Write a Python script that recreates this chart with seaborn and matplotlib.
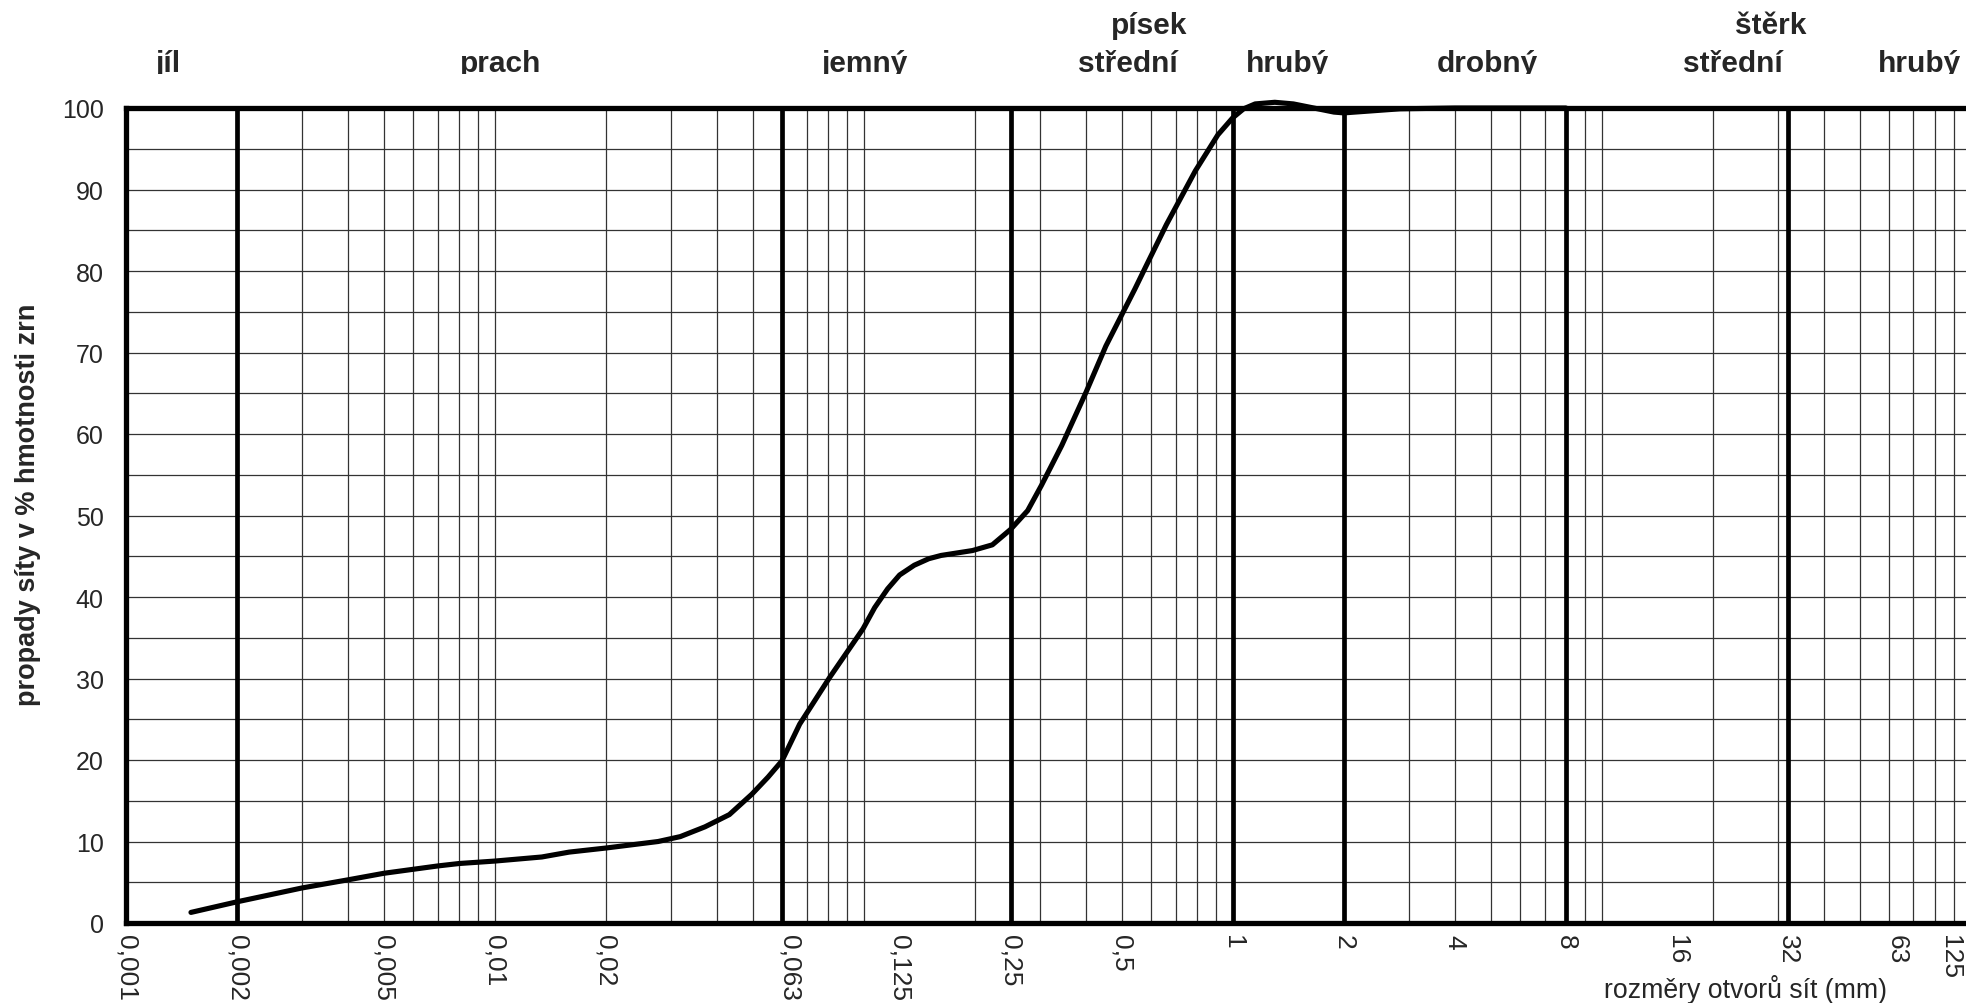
import numpy as np
import pandas as pd
import matplotlib
matplotlib.use("Agg")
import matplotlib.pyplot as plt
import seaborn as sns
from matplotlib.ticker import NullLocator
from matplotlib.transforms import Bbox, TransformedBbox

# Grain-size distribution (passing through sieve, % by mass)
size_mm = [0.0015, 0.002, 0.003, 0.004, 0.005, 0.007, 0.008, 0.010, 0.0134,
           0.0159, 0.020, 0.0277, 0.0318, 0.0371, 0.0432, 0.0497, 0.055,
           0.060, 0.067, 0.0807, 0.0995, 0.107, 0.116, 0.125, 0.137, 0.15,
           0.162, 0.197, 0.223, 0.25, 0.278, 0.303, 0.344, 0.400, 0.453,
           0.543, 0.582, 0.661, 0.792, 0.911, 1.0, 1.07, 1.15, 1.3, 1.46,
           1.7, 1.88, 2.0, 2.84, 4.0, 8.0]
passing = [1.3, 2.6, 4.3, 5.3, 6.1, 7.0, 7.3, 7.6, 8.1,
           8.7, 9.2, 10.0, 10.6, 11.8, 13.3, 15.8, 17.9,
           19.9, 24.4, 30.1, 36.1, 38.7, 41.0, 42.7, 43.9, 44.7,
           45.1, 45.7, 46.4, 48.3, 50.6, 53.7, 58.6, 65.1, 70.8,
           77.8, 80.6, 85.7, 92.3, 96.7, 98.8, 99.9, 100.5, 100.7, 100.5,
           99.9, 99.5, 99.4, 99.9, 100.0, 100.0]

# Fraction boundaries (heavy vertical lines)
boundaries = [0.002, 0.06, 0.25, 1, 2, 8, 32]

# Sieve-size axis labels
tick_pos = [0.001, 0.002, 0.005, 0.01, 0.02, 0.063, 0.125, 0.25, 0.5, 1, 2,
            4, 8, 16, 32, 63, 88]
tick_labels = ["0,001", "0,002", "0,005", "0,01", "0,02", "0,063", "0,125",
               "0,25", "0,5", "1", "2", "4", "8", "16", "32", "63", "125"]

# Fraction names above the plot: (text, x px, baseline px from top, clipped)
fraction_names = [("jíl", 168, 72, True), ("prach", 501, 72, True),
                  ("jemný", 865, 72, True), ("písek", 1149, 34, False),
                  ("střední", 1128, 72, True), ("hrubý", 1288, 72, True),
                  ("drobný", 1487, 72, True), ("štěrk", 1771, 34, False),
                  ("střední", 1733, 72, True), ("hrubý", 1920, 72, True)]

sns.set_style("white")
plt.rcParams["font.family"] = ["Liberation Sans", "DejaVu Sans"]

W, H = 1966, 1004
fig = plt.figure(figsize=(W / 100, H / 100), dpi=100)
x0, x1 = 126, 1970.6
y_top, y_bot = 109, 924
ax = fig.add_axes([x0 / W, (H - y_bot) / H, (x1 - x0) / W, (y_bot - y_top) / H])
ax.set_xscale("log")
ax.set_xlim(0.001, 100)
ax.set_ylim(0, 100)

# light grid: log minor positions and every 5 %
grid_x = [m * 10.0 ** e for e in range(-3, 2) for m in range(1, 10)]
for gx in grid_x:
    ax.axvline(gx, color="#333333", lw=0.9, zorder=1)
for gy in range(5, 100, 5):
    ax.axhline(gy, color="#333333", lw=0.9, zorder=1)
for b in boundaries:
    ax.axvline(b, color="black", lw=3.4, zorder=3)

df = pd.DataFrame({"size": size_mm, "passing": passing})
sns.lineplot(data=df, x="size", y="passing", ax=ax, color="black", lw=3.7,
             sort=False, zorder=5, clip_on=False, solid_capstyle="round",
             solid_joinstyle="round")

ax.set_xticks(tick_pos)
ax.set_xticklabels(tick_labels, rotation=-90, fontsize=19)
ax.xaxis.set_minor_locator(NullLocator())
ax.set_yticks(range(0, 101, 10))
ax.set_yticklabels([str(v) for v in range(0, 101, 10)], fontsize=18)
ax.tick_params(axis="x", length=0, pad=8)
ax.tick_params(axis="y", length=0, pad=16)
ax.set_xlabel("")
ax.set_ylabel("")

for side in ["left", "bottom", "top"]:
    ax.spines[side].set_visible(True)
    ax.spines[side].set_linewidth(3.8)
    ax.spines[side].set_color("black")
    ax.spines[side].set_zorder(6)
ax.spines["right"].set_visible(False)

# second-row names are cut just below their baseline
clip = TransformedBbox(Bbox([[0, 1 - 75 / H], [1, 1]]), fig.transFigure)
for text, px, py, clipped in fraction_names:
    t = fig.text(px / W, 1 - py / H, text, ha="center", va="baseline",
                 fontsize=21.5, fontweight="bold")
    if clipped:
        t.set_clip_box(clip)
        t.set_clip_on(True)

fig.text(28 / W, 1 - 505 / H, "propady síty v % hmotnosti zrn", rotation=90,
         ha="center", va="center", fontsize=19.5, fontweight="bold")
fig.text(1745 / W, 1 - 990 / H, "rozměry otvorů sít (mm)", ha="center",
         va="center", fontsize=19.2)

fig.savefig("out.png", dpi=100)
